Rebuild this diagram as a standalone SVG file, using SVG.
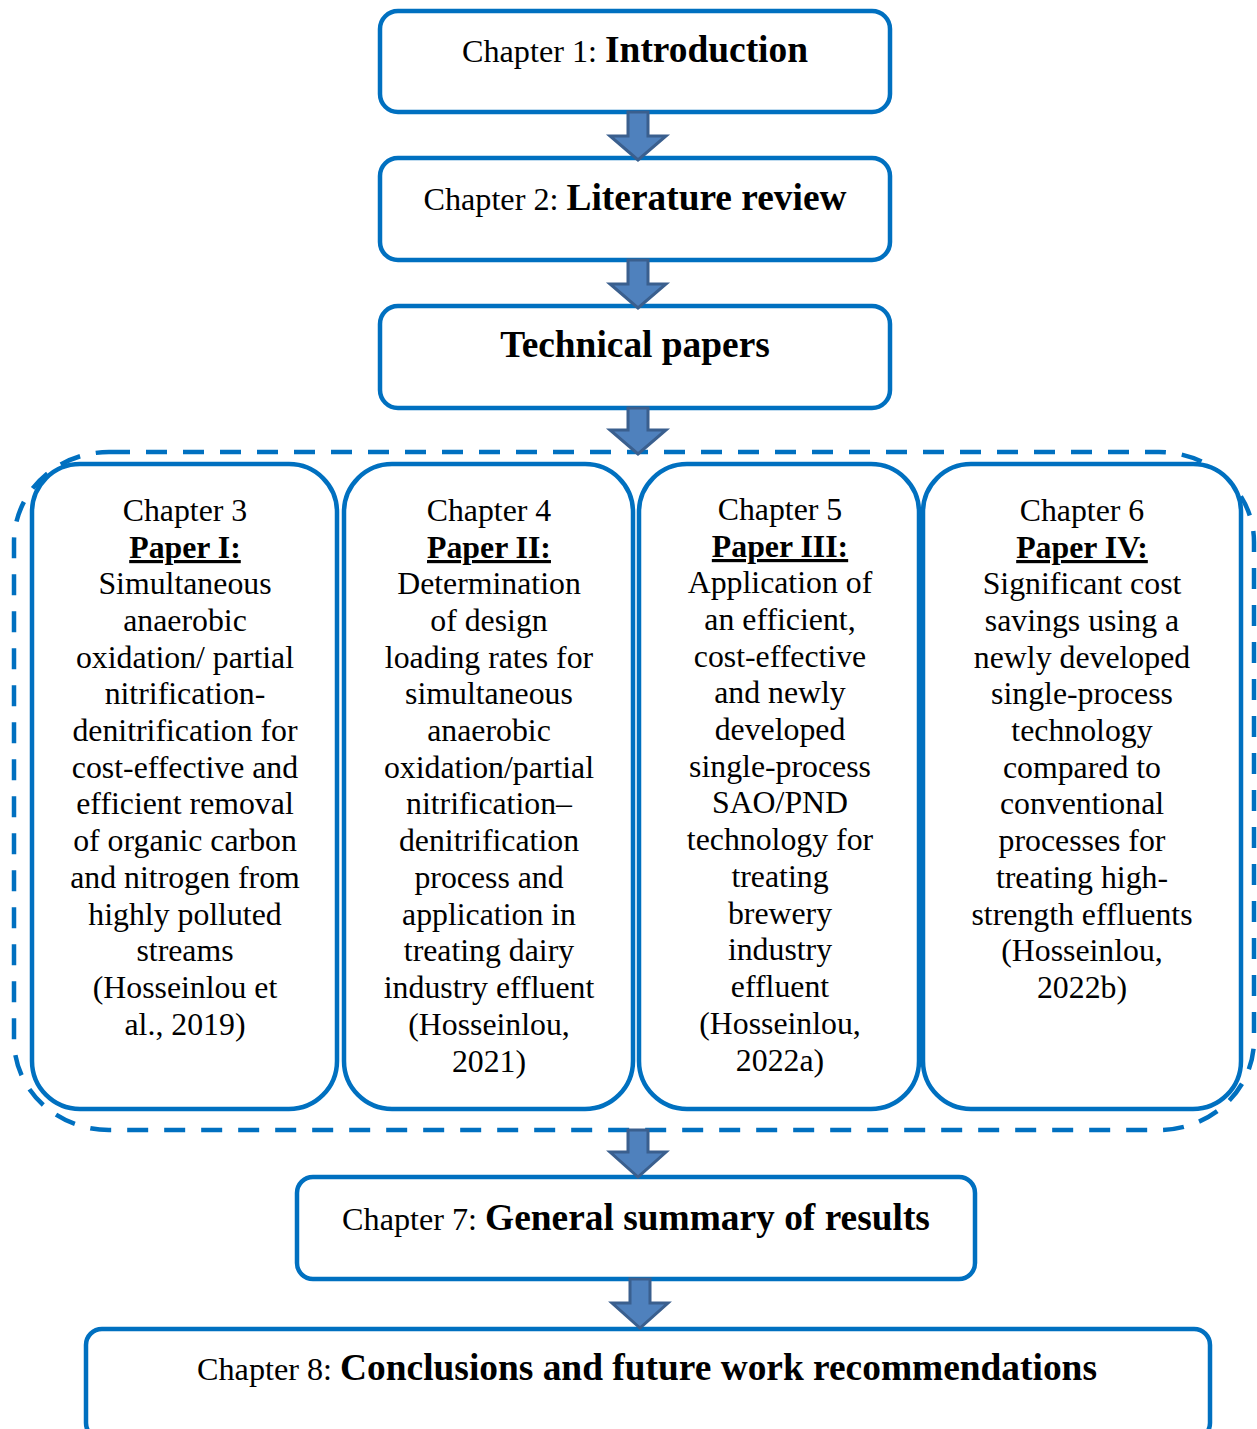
<svg xmlns="http://www.w3.org/2000/svg" width="1257" height="1429" viewBox="0 0 1257 1429">
<style>
.box{fill:#fff;stroke:#0070C0;stroke-width:4.5}
.dash{fill:none;stroke:#0070C0;stroke-width:4.5;stroke-dasharray:21 16}
.arr{fill:#4F81BD;stroke:#3A5F8E;stroke-width:3;stroke-linejoin:miter}
text{font-family:"Liberation Serif","Times New Roman",serif;fill:#000;text-anchor:middle}
.h{font-size:32.2px}
.hb{font-size:37.4px;font-weight:bold}
.c{font-size:31.8px}
.cb{font-size:31.8px;font-weight:bold;text-decoration:underline}
</style>
<rect x="0" y="0" width="1257" height="1429" fill="#fff"/>
<g id="group-papers">
<rect class="dash" x="14" y="452" width="1240" height="678" rx="95" ry="90"/>
</g>
<g id="n1"><rect class="box" x="380" y="11" width="510" height="101" rx="18"/>
<text x="635" y="62"><tspan class="h">Chapter 1: </tspan><tspan class="hb">Introduction</tspan></text></g>
<g id="n2"><rect class="box" x="380" y="158" width="510" height="102" rx="18"/>
<text x="635" y="210"><tspan class="h">Chapter 2: </tspan><tspan class="hb">Literature review</tspan></text></g>
<g id="n3"><rect class="box" x="380" y="306" width="510" height="102" rx="18"/>
<text x="635" y="357" class="hb">Technical papers</text></g>
<g id="ch3"><rect class="box" x="32" y="464" width="305" height="645" rx="48"/>
<text class="c" x="185" y="521">Chapter 3</text>
<text class="cb" x="185" y="558">Paper I:</text>
<text class="c" x="185" y="594">Simultaneous</text>
<text class="c" x="185" y="631">anaerobic</text>
<text class="c" x="185" y="668">oxidation/ partial</text>
<text class="c" x="185" y="704">nitrification-</text>
<text class="c" x="185" y="741">denitrification for</text>
<text class="c" x="185" y="778">cost-effective and</text>
<text class="c" x="185" y="814">efficient removal</text>
<text class="c" x="185" y="851">of organic carbon</text>
<text class="c" x="185" y="888">and nitrogen from</text>
<text class="c" x="185" y="925">highly polluted</text>
<text class="c" x="185" y="961">streams</text>
<text class="c" x="185" y="998">(Hosseinlou et</text>
<text class="c" x="185" y="1035">al., 2019)</text>
</g>
<g id="ch4"><rect class="box" x="344" y="464" width="289" height="645" rx="48"/>
<text class="c" x="489" y="521">Chapter 4</text>
<text class="cb" x="489" y="558">Paper II:</text>
<text class="c" x="489" y="594">Determination</text>
<text class="c" x="489" y="631">of design</text>
<text class="c" x="489" y="668">loading rates for</text>
<text class="c" x="489" y="704">simultaneous</text>
<text class="c" x="489" y="741">anaerobic</text>
<text class="c" x="489" y="778">oxidation/partial</text>
<text class="c" x="489" y="814">nitrification–</text>
<text class="c" x="489" y="851">denitrification</text>
<text class="c" x="489" y="888">process and</text>
<text class="c" x="489" y="925">application in</text>
<text class="c" x="489" y="961">treating dairy</text>
<text class="c" x="489" y="998">industry effluent</text>
<text class="c" x="489" y="1035">(Hosseinlou,</text>
<text class="c" x="489" y="1072">2021)</text>
</g>
<g id="ch5"><rect class="box" x="639" y="464" width="280" height="645" rx="48"/>
<text class="c" x="780" y="520">Chapter 5</text>
<text class="cb" x="780" y="557">Paper III:</text>
<text class="c" x="780" y="593">Application of</text>
<text class="c" x="780" y="630">an efficient,</text>
<text class="c" x="780" y="667">cost-effective</text>
<text class="c" x="780" y="703">and newly</text>
<text class="c" x="780" y="740">developed</text>
<text class="c" x="780" y="777">single-process</text>
<text class="c" x="780" y="813">SAO/PND</text>
<text class="c" x="780" y="850">technology for</text>
<text class="c" x="780" y="887">treating</text>
<text class="c" x="780" y="924">brewery</text>
<text class="c" x="780" y="960">industry</text>
<text class="c" x="780" y="997">effluent</text>
<text class="c" x="780" y="1034">(Hosseinlou,</text>
<text class="c" x="780" y="1071">2022a)</text>
</g>
<g id="ch6"><rect class="box" x="923" y="464" width="318" height="645" rx="48"/>
<text class="c" x="1082" y="521">Chapter 6</text>
<text class="cb" x="1082" y="558">Paper IV:</text>
<text class="c" x="1082" y="594">Significant cost</text>
<text class="c" x="1082" y="631">savings using a</text>
<text class="c" x="1082" y="668">newly developed</text>
<text class="c" x="1082" y="704">single-process</text>
<text class="c" x="1082" y="741">technology</text>
<text class="c" x="1082" y="778">compared to</text>
<text class="c" x="1082" y="814">conventional</text>
<text class="c" x="1082" y="851">processes for</text>
<text class="c" x="1082" y="888">treating high-</text>
<text class="c" x="1082" y="925">strength effluents</text>
<text class="c" x="1082" y="961">(Hosseinlou,</text>
<text class="c" x="1082" y="998">2022b)</text>
</g>
<g id="n7"><rect class="box" x="297" y="1177" width="678" height="102" rx="16"/>
<text x="636" y="1230"><tspan class="h">Chapter 7: </tspan><tspan class="hb">General summary of results</tspan></text></g>
<g id="n8"><rect class="box" x="86" y="1329" width="1124" height="110" rx="16"/>
<text x="647" y="1380"><tspan class="h">Chapter 8: </tspan><tspan class="hb">Conclusions and future work recommendations</tspan></text></g>
<g id="connectors">
<path class="arr" d="M628 112 H648 V136 H666 L638 160 L610 136 H628 Z"/>
<path class="arr" d="M628 260 H648 V284 H666 L638 308 L610 284 H628 Z"/>
<path class="arr" d="M628 408 H648 V430 H666 L638 454 L610 430 H628 Z"/>
<path class="arr" d="M628 1130 H648 V1152 H666 L638 1177 L610 1152 H628 Z"/>
<path class="arr" d="M630 1279 H650 V1303 H668 L640 1328 L612 1303 H630 Z"/>
</g>
</svg>
